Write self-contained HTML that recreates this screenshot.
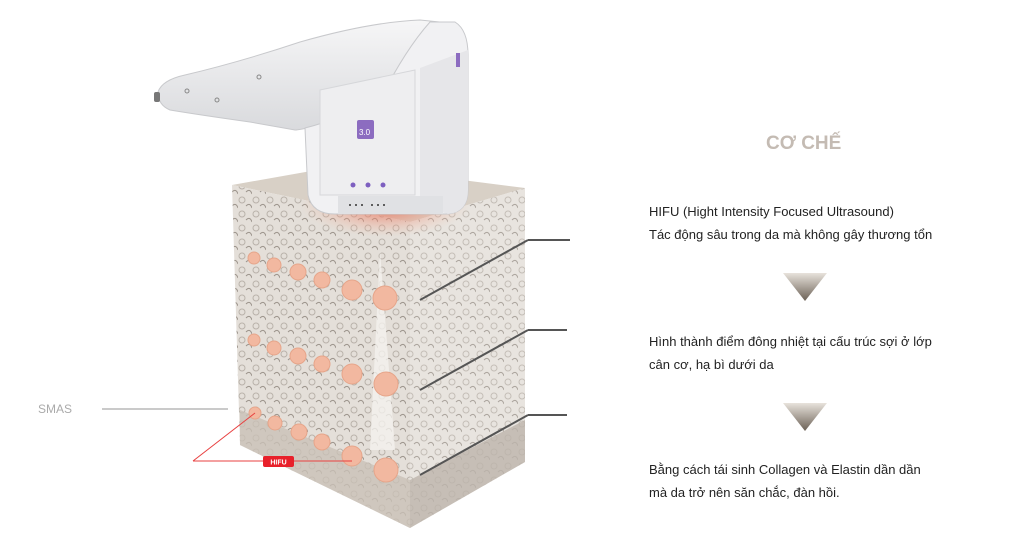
<!DOCTYPE html>
<html><head><meta charset="utf-8"><style>
body{margin:0;width:1024px;height:539px;background:#fff;overflow:hidden;position:relative;font-family:"Liberation Sans",sans-serif}
.t{position:absolute;left:649px;font-size:13px;color:#222;line-height:23px}
</style></head><body>
<svg width="1024" height="539" style="position:absolute;left:0;top:0">
<defs>
<linearGradient id="tri" x1="0" y1="0" x2="0" y2="1"><stop offset="0" stop-color="#e8e3dc"/><stop offset="1" stop-color="#6b6055"/></linearGradient>
<radialGradient id="glow" cx="0.5" cy="0.5" r="0.5"><stop offset="0" stop-color="#e8604a" stop-opacity=".9"/><stop offset="1" stop-color="#f4c0a8" stop-opacity="0"/></radialGradient>
<linearGradient id="wand" x1="0" y1="0" x2="0" y2="1"><stop offset="0" stop-color="#f6f6f7"/><stop offset="1" stop-color="#d9dadd"/></linearGradient>
<pattern id="tex" width="14" height="14" patternUnits="userSpaceOnUse"><rect width="14" height="14" fill="#e4dfd9"/><circle cx="4" cy="4" r="3" fill="none" stroke="#b9b2aa" stroke-width="1"/><path d="M8 10 q4 -4 6 2" stroke="#9d958d" fill="none"/></pattern>
</defs>
<!-- block -->
<polygon points="232,185 345,165 525,188 410,222" fill="#d8d0c6"/>
<polygon points="232,185 410,222 410,528 240,445" fill="url(#tex)"/>
<polygon points="410,222 525,188 525,462 410,528" fill="url(#tex)" opacity=".85"/>
<polygon points="240,410 410,480 410,528 240,445" fill="#c9c0b7" opacity=".8"/>
<polygon points="410,480 525,420 525,462 410,528" fill="#bdb4ab" opacity=".8"/>
<path d="M380 250 L395 450 L370 450 Z" fill="#f4f1ee" opacity=".8"/>
<ellipse cx="385" cy="205" rx="85" ry="32" fill="url(#glow)"/>
<!-- dark lines -->
<g stroke="#555" stroke-width="2"><line x1="420" y1="300" x2="528" y2="240"/><line x1="528" y1="240" x2="570" y2="240"/><line x1="420" y1="390" x2="528" y2="330"/><line x1="528" y1="330" x2="567" y2="330"/><line x1="420" y1="475" x2="528" y2="415"/><line x1="528" y1="415" x2="567" y2="415"/></g>
<!-- circles -->
<g fill="#f2b8a0" stroke="#e6a58a" stroke-width="1">
<circle cx="254" cy="258" r="6"/><circle cx="274" cy="265" r="7"/><circle cx="298" cy="272" r="8"/><circle cx="322" cy="280" r="8"/><circle cx="352" cy="290" r="10"/><circle cx="385" cy="298" r="12"/>
<circle cx="254" cy="340" r="6"/><circle cx="274" cy="348" r="7"/><circle cx="298" cy="356" r="8"/><circle cx="322" cy="364" r="8"/><circle cx="352" cy="374" r="10"/><circle cx="386" cy="384" r="12"/>
<circle cx="255" cy="413" r="6"/><circle cx="275" cy="423" r="7"/><circle cx="299" cy="432" r="8"/><circle cx="322" cy="442" r="8"/><circle cx="352" cy="456" r="10"/><circle cx="386" cy="470" r="12"/>
</g>
<!-- handpiece -->
<path d="M158 92 Q162 80 185 75 Q240 62 300 42 Q370 22 420 20 L440 22 Q430 40 410 60 L400 90 Q380 115 320 125 Q300 130 295 130 L250 122 Q200 115 170 110 Q158 105 158 92 Z" fill="url(#wand)" stroke="#c8c9cc"/>
<path d="M305 128 Q330 122 380 100 Q405 50 430 22 L455 22 Q468 30 468 55 L468 190 Q468 212 448 214 L335 214 Q312 214 308 195 Z" fill="#f1f1f3" stroke="#c8c9cc"/>
<path d="M420 68 L420 205 L448 214 Q468 212 468 190 L468 50 Z" fill="#e6e6e9"/>
<path d="M320 90 L415 70 L415 195 L320 195 Z" fill="#eeeef0" stroke="#d6d7da"/>
<rect x="338" y="196" width="105" height="18" fill="#e0e1e4"/>
<g fill="#333"><circle cx="350" cy="205" r="1"/><circle cx="356" cy="205" r="1"/><circle cx="362" cy="205" r="1"/><circle cx="372" cy="205" r="1"/><circle cx="378" cy="205" r="1"/><circle cx="384" cy="205" r="1"/></g>
<rect x="357" y="120" width="17" height="19" rx="2" fill="#8c6cc0"/>
<text x="359" y="135" font-size="8" fill="#fff">3.0</text>
<circle cx="353" cy="185" r="2.5" fill="#7d5fc0"/><circle cx="368" cy="185" r="2.5" fill="#7d5fc0"/><circle cx="383" cy="185" r="2.5" fill="#7d5fc0"/>
<rect x="456" y="53" width="4" height="14" fill="#8c6cc0"/>
<circle cx="187" cy="91" r="2" fill="none" stroke="#888"/><circle cx="217" cy="100" r="2" fill="none" stroke="#888"/><circle cx="259" cy="77" r="2" fill="none" stroke="#888"/>
<rect x="154" y="92" width="6" height="10" rx="2" fill="#777"/>
<!-- SMAS / HIFU -->
<line x1="102" y1="409" x2="228" y2="409" stroke="#aaa" stroke-width="1.3"/>
<g stroke="#e84040" stroke-width="1"><line x1="193" y1="461" x2="255" y2="413"/><line x1="193" y1="461" x2="352" y2="461"/></g>
<rect x="263" y="456" width="31" height="11" rx="2" fill="#e8202a"/>
<text x="278.5" y="464.5" font-size="7" font-weight="bold" fill="#fff" text-anchor="middle">HIFU</text>
<text x="38" y="413" font-size="12" fill="#aaa">SMAS</text>
<polygon points="783,273 827,273 805,301" fill="url(#tri)"/>
<polygon points="783,403 827,403 805,431" fill="url(#tri)"/>
</svg>
<div style="position:absolute;left:766px;top:133px;font-size:19px;font-weight:bold;color:#c4bbb3">CƠ CHẾ</div>
<div class="t" style="top:200px">HIFU (Hight Intensity Focused Ultrasound)<br>Tác động sâu trong da mà không gây thương tổn</div>
<div class="t" style="top:330px">Hình thành điểm đông nhiệt tại cấu trúc sợi ở lớp<br>cân cơ, hạ bì dưới da</div>
<div class="t" style="top:458px">Bằng cách tái sinh Collagen và Elastin dần dần<br>mà da trở nên săn chắc, đàn hồi.</div>
</body></html>
